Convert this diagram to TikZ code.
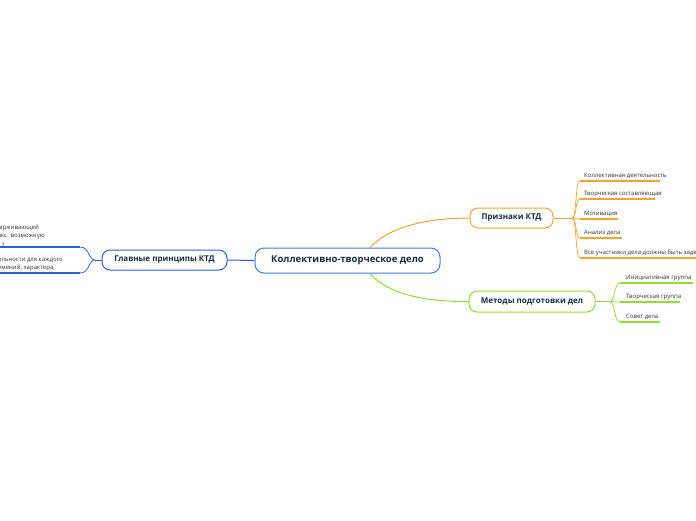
\documentclass[tikz,border=0pt]{standalone}
\usepackage{fontspec}
\setmainfont{Open Sans}
\definecolor{cblue}{HTML}{3B7FE0}
\definecolor{lblue}{HTML}{2A5FE0}
\definecolor{corange}{HTML}{F8A42C}
\definecolor{cgreen}{HTML}{8EE02C}
\definecolor{ctext}{HTML}{143045}
\definecolor{ltext}{HTML}{333333}
\tikzset{
  central/.style={draw=cblue, line width=1pt, rounded corners=9pt, fill=white,
    minimum width=185pt, minimum height=25pt, inner sep=0pt,
    font=\fontsize{9.5}{11}\selectfont\bfseries, text=ctext},
  mainbox/.style={line width=1pt, rounded corners=8pt, fill=white,
    minimum height=20pt, inner sep=0pt,
    font=\fontsize{8}{10}\selectfont\bfseries, text=ctext},
  leaf/.style={font=\fontsize{6}{7}\selectfont, text=ltext, inner sep=0pt, anchor=base west},
  lefttxt/.style={font=\fontsize{6}{7}\selectfont, text=ltext, inner sep=0pt, anchor=base east},
  uline/.style={line width=1.6pt},
  conn/.style={line width=1pt}
}
\begin{document}
\begin{tikzpicture}[x=1pt,y=-1pt]
\useasboundingbox[fill=white] (0,0) rectangle (696,520);

% main nodes
\node[central] (c) at (347.5,260.5) {Коллективно-творческое дело};
\node[mainbox, draw=corange, minimum width=83pt] (p) at (511.5,218) {Признаки КТД};
\node[mainbox, draw=cgreen, minimum width=126pt, minimum height=21pt] (m) at (532,301.5) {Методы подготовки дел};
\node[mainbox, draw=lblue, minimum width=125pt] (g) at (164.5,260) {Главные принципы КТД};

% connectors from central
\coordinate (co) at (370,247.5);
\coordinate (cg) at (370,273.5);
\draw[conn, corange] (co) .. controls (392,224) and (435,218) .. (p.west);
\draw[conn, cgreen] (cg) .. controls (392,298) and (435,301.5) .. (m.west);
\draw[conn, lblue] (c.west) -- (g.east);

% orange leaves
\coordinate (pj) at (572,218);
\draw[conn, corange] (p.east) -- (pj);
\foreach \y/\e/\t/\n in {181/660/Коллективная деятельность/o1, 199/655/Творческая составляющая/o2, 219/618/Мотивация/o3, 238/622/Анализ дела/o4} {
  \node[leaf] (\n) at (584,\y-3.5) {\t};
  \coordinate (\n s) at (580,\y);
  \draw[corange, line width=0.7pt] (pj) .. controls (577,218) and (575,\y) .. (\n s);
  \draw[uline, corange] (\n s) -- (\e,\y);
}
\node[leaf] (o5) at (584,254.5) {Все участники дела должны быть задействованы};
\coordinate (o5s) at (580,258);
\coordinate (o5e) at (696,258);
\draw[corange, line width=0.7pt] (pj) .. controls (577,218) and (575,258) .. (o5s);
\draw[uline, corange] (o5s) -- (o5e);

% green leaves
\coordinate (mj) at (610,301.5);
\draw[conn, cgreen] (m.east) -- (mj);
\foreach \y/\e/\t/\n in {283/693/Инициативная группа/g1, 302/680/Творческая группа/g2, 322/660/Совет дела/g3} {
  \node[leaf] (\n) at (626,\y-3.5) {\t};
  \coordinate (\n s) at (620,\y);
  \draw[cgreen, line width=0.7pt] (mj) .. controls (615,301.5) and (614,\y) .. (\n s);
  \draw[uline, cgreen] (\n s) -- (\e,\y);
}

% blue (left) leaves
\coordinate (gj) at (95,260);
\draw[conn, lblue] (g.west) -- (gj);
\coordinate (b1s) at (80,247);
\coordinate (b1e) at (0,247);
\coordinate (b2s) at (80,273);
\coordinate (b2e) at (0,273);
\draw[lblue, line width=0.7pt] (gj) .. controls (88,260) and (90,247) .. (b1s);
\draw[lblue, line width=0.7pt] (gj) .. controls (88,260) and (90,273) .. (b2s);
\draw[uline, lblue] (b1s) -- (b1e);
\draw[uline, lblue] (b2s) -- (b2e);
\node[lefttxt] (t1) at (39,229) {поддерживающей};
\node[lefttxt] (t2) at (45,237.5) {макс. возможную};
\node[lefttxt] (t3) at (5,246) {т};
\node[lefttxt] (t4) at (63,261) {деятельности для каждого};
\node[lefttxt] (t5) at (55,269.5) {учетом умений, характера,};
\end{tikzpicture}
\end{document}
